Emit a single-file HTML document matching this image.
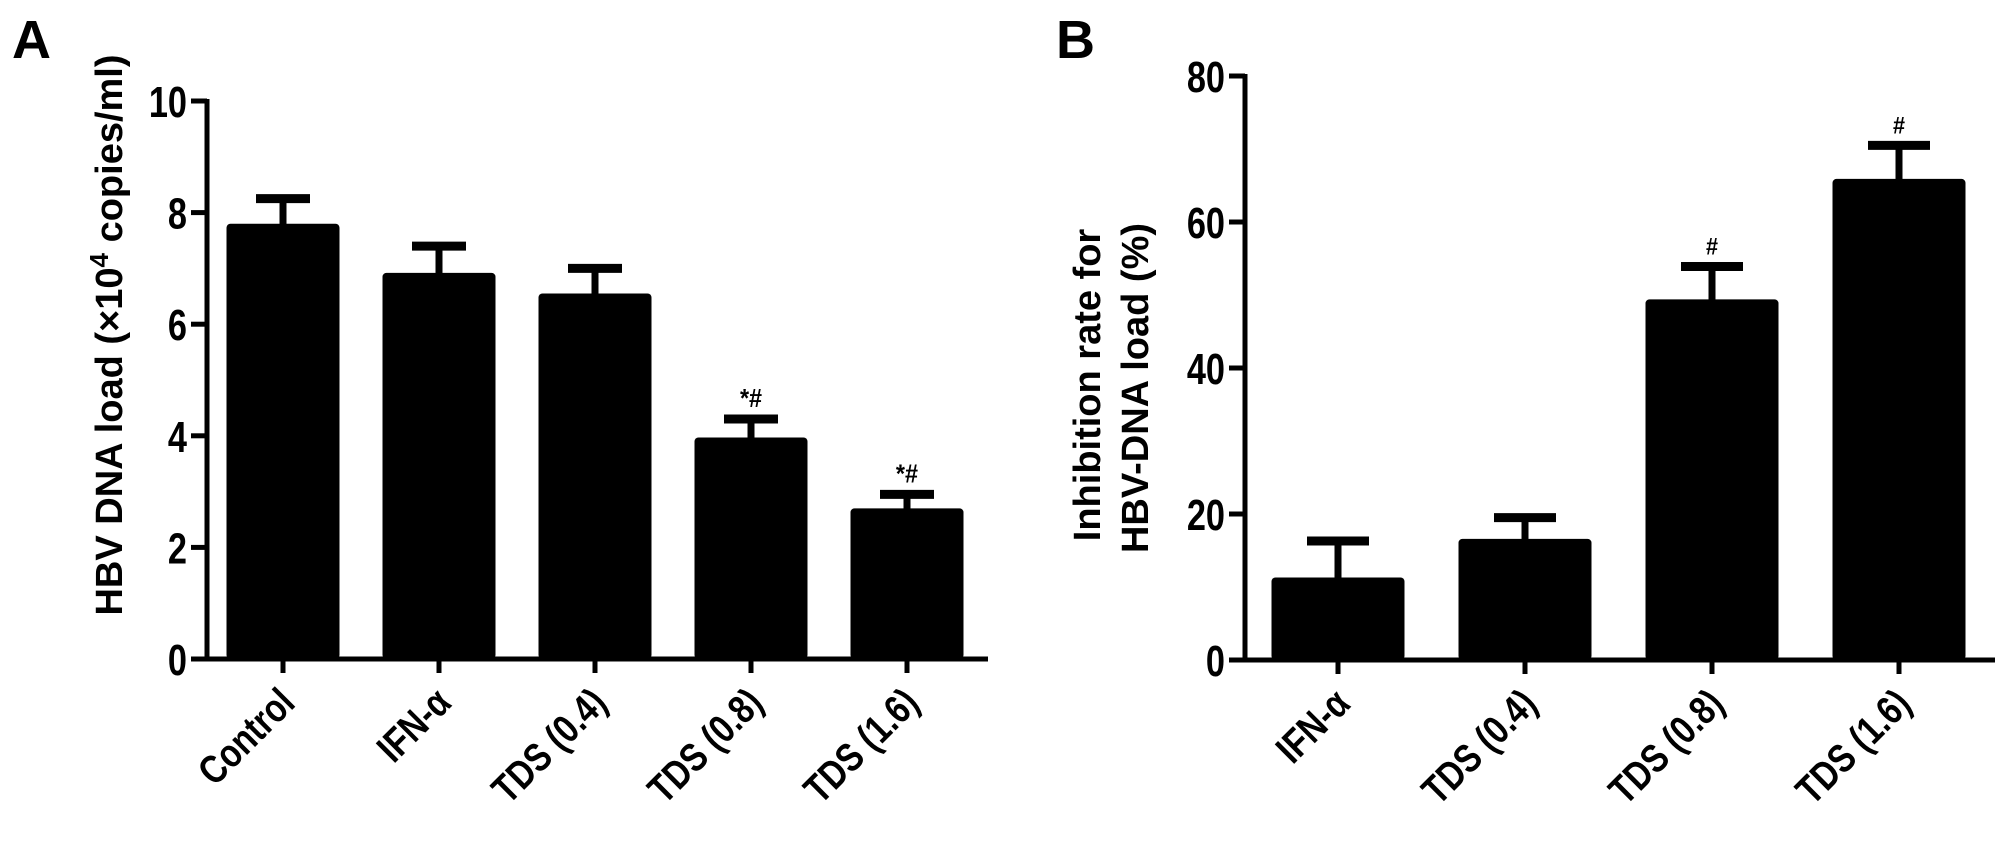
<!DOCTYPE html>
<html><head><meta charset="utf-8"><style>
html,body{margin:0;padding:0;background:#fff;}
svg{display:block;font-family:"Liberation Sans",Arial,sans-serif;font-weight:bold;}
</style></head><body>
<svg id="chart" width="2008" height="846" viewBox="0 0 2008 846" xmlns="http://www.w3.org/2000/svg">
<text x="12" y="58" font-size="54">A</text>
<text x="1056" y="58" font-size="54">B</text>
<text transform="translate(122,335) rotate(-90)" text-anchor="middle" font-size="38">HBV DNA load (×10<tspan dy="-14" font-size="26">4</tspan><tspan dy="14"> copies/ml)</tspan></text>
<text transform="translate(1100,385) rotate(-90)" text-anchor="middle" font-size="38">Inhibition rate for</text>
<text transform="translate(1148,388) rotate(-90)" text-anchor="middle" font-size="38">HBV-DNA load (%)</text>
<g id="pa"></g>
<g id="pb"></g>
</svg>
<script>
const catsA = ["Control","IFN-α","TDS (0.4)","TDS (0.8)","TDS (1.6)"];
const valsA = [7.8,6.92,6.55,3.97,2.7];
const errA = [0.45,0.48,0.45,0.33,0.25];
const annA = ["","","","*#","*#"];
const ticksA = [0,2,4,6,8,10];
const catsB = ["IFN-α","TDS (0.4)","TDS (0.8)","TDS (1.6)"];
const valsB = [11.3,16.6,49.4,65.9];
const errB = [5.0,2.9,4.5,4.6];
const annB = ["","","#","#"];
const ticksB = [0,20,40,60,80];
const NS="http://www.w3.org/2000/svg";
function mk(g,tag,attrs){const e=document.createElementNS(NS,tag);for(const k in attrs)e.setAttribute(k,attrs[k]);g.appendChild(e);return e;}
function panel(gid,cats,vals,errs,anns,ticks,cfg){
  const g=document.getElementById(gid);
  const y=v=>cfg.y0-(v-cfg.vmin)/(cfg.vmax-cfg.vmin)*(cfg.y0-cfg.y1);
  const x=i=>cfg.x0+cfg.off+i*cfg.step;
  cats.forEach((c,i)=>{
    const cx=x(i),top=y(vals[i]),et=y(vals[i]+errs[i]);
    const st=mk(g,'line',{x1:cx,x2:cx,y1:top+2,y2:et,stroke:'#000','stroke-width':7});
    
    
    const cap=mk(g,'line',{x1:cx-cfg.cap/2,x2:cx+cfg.cap/2,y1:et,y2:et,stroke:'#000','stroke-width':9});
    
    
    const b=mk(g,'rect',{x:cx-cfg.bw/2,y:top,width:cfg.bw,height:cfg.y0-top,rx:4,fill:'#000'});
    
    
    if(anns[i]){const t=mk(g,'text',{x:cx,y:et-12,'text-anchor':'middle','font-size':cfg.annSize,transform:`translate(${cx},0) scale(0.9,1) translate(${-cx},0)`});t.textContent=anns[i];
      
      }
    const tk=mk(g,'line',{x1:cx,x2:cx,y1:cfg.y0,y2:cfg.y0+14,stroke:'#000','stroke-width':5});
    
    
    const lx=cx+14,ly=cfg.y0+46;
    const l=mk(g,'text',{'text-anchor':'end','font-size':40,transform:`translate(${lx},${ly}) rotate(-45) scale(0.82,1)`});l.textContent=c;
    
    
  });
  const ax=mk(g,'line',{x1:cfg.x0,x2:cfg.x0,y1:cfg.y1-2,y2:cfg.y0+2,stroke:'#000','stroke-width':5});
  
  
  const xa=mk(g,'line',{x1:cfg.x0-16,x2:cfg.xend,y1:cfg.y0,y2:cfg.y0,stroke:'#000','stroke-width':5});
  
  
  ticks.forEach(v=>{
    const ty=y(v);
    const t=mk(g,'line',{x1:cfg.x0-16,x2:cfg.x0,y1:ty,y2:ty,stroke:'#000','stroke-width':5});
    
    
    const lb=mk(g,'text',{'text-anchor':'end','font-size':44,transform:`translate(${cfg.x0-20},${ty+16}) scale(0.78,1)`});lb.textContent=v;
    
    
  });
}
panel('pa',catsA,valsA,errA,annA,ticksA,{x0:207,off:76,step:156,bw:113,cap:54,y0:659,y1:101,vmin:0,vmax:10,xend:988,annSize:26});
panel('pb',catsB,valsB,errB,annB,ticksB,{x0:1245,off:93,step:187,bw:133,cap:62,y0:660,y1:76,vmin:0,vmax:80,xend:1995,annSize:24});
</script>
</body></html>
